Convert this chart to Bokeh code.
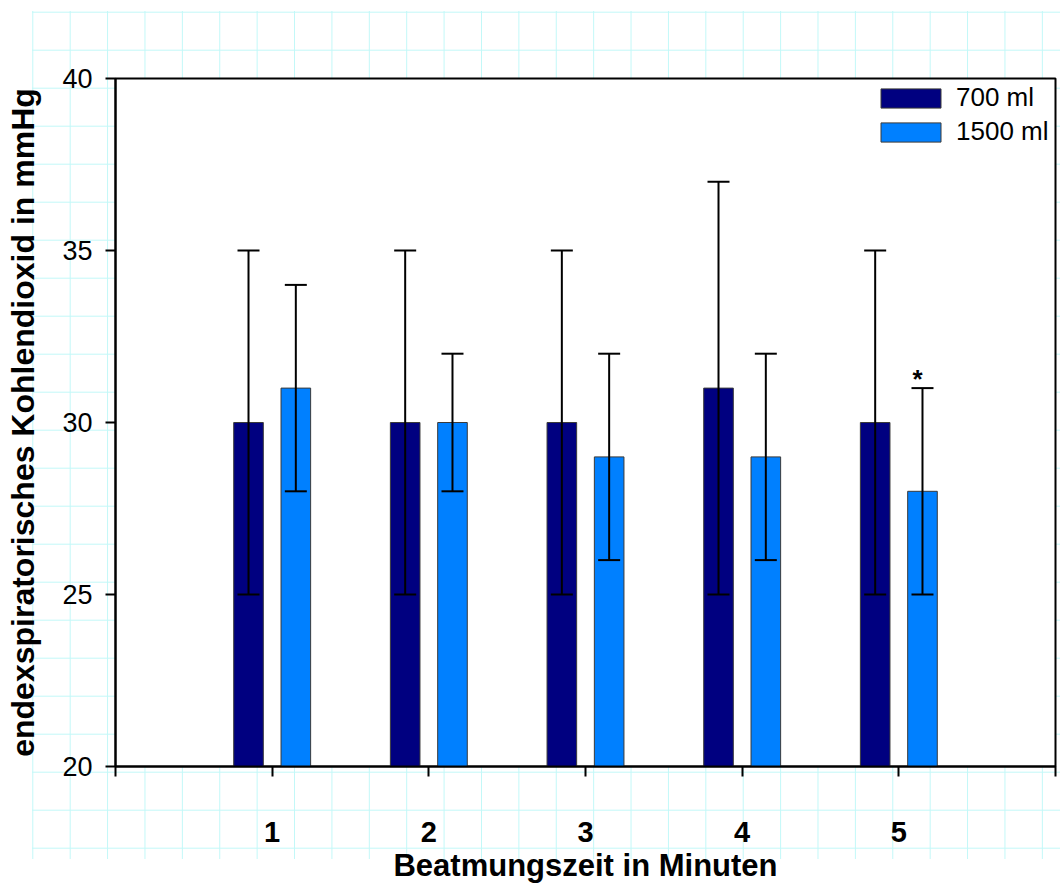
from bokeh.plotting import figure
from bokeh.models import (ColumnDataSource, Whisker, TeeHead, FixedTicker, Legend, LegendItem,
                          Range1d)
from bokeh.transform import dodge
from bokeh.core.properties import value
from bokeh.embed import file_html
from bokeh.resources import INLINE

# ---- data ----
minutes = [1, 2, 3, 4, 5]
tick_labels = ["1", "2", "3", "4", "5"]
co2_700 = [30, 30, 30, 31, 30]
sd_700 = [5, 5, 5, 6, 5]
co2_1500 = [31, 30, 29, 29, 28]
sd_1500 = [3, 2, 3, 3, 3]
series_names = ["700 ml", "1500 ml"]
y_ticks = [20, 25, 30, 35, 40]
star_index = 4  # significant difference marked at minute 5 (1500 ml)

src = ColumnDataSource(dict(
    x=minutes,
    v700=co2_700, lo700=[v - s for v, s in zip(co2_700, sd_700)], hi700=[v + s for v, s in zip(co2_700, sd_700)],
    v1500=co2_1500, lo1500=[v - s for v, s in zip(co2_1500, sd_1500)], hi1500=[v + s for v, s in zip(co2_1500, sd_1500)],
))
star_src = ColumnDataSource(dict(x=[minutes[star_index]], y=[co2_1500[star_index] + sd_1500[star_index]], t=["*"]))

FONT = "Liberation Sans"
GRID = "#c2f8f8"

p = figure(width=1060, height=885, output_backend="svg", toolbar_location=None,
           x_range=Range1d(0, 6), y_range=Range1d(20, 40),
           min_border_left=115, min_border_right=5, min_border_top=78, min_border_bottom=118)

p.stylesheets = [":host { background-color: #ffffff;"
                 " background-image: linear-gradient(#fff,#fff), linear-gradient(#fff,#fff), linear-gradient(#fff,#fff),"
                 f" linear-gradient(to right, {GRID} 1px, transparent 1px), linear-gradient(to bottom, {GRID} 1px, transparent 1px);"
                 " background-size: 32px 100%, 100% 11px, 100% 40px, 37.4px 100%, 100% 38px;"
                 " background-position: 0 0, 0 0, 0 859px, 32.3px 0, 0 11.7px;"
                 " background-repeat: no-repeat, no-repeat, no-repeat, repeat, repeat; }"]

p.border_fill_color = None
p.background_fill_color = "white"
p.outline_line_color = "black"
p.outline_line_width = 2
p.xgrid.visible = False
p.ygrid.visible = False

W = 0.189
OFF = 0.151
r1 = p.vbar(x=dodge("x", -OFF, range=p.x_range), top="v700", bottom=20, width=W, source=src,
            fill_color="#000080", line_color="#3a3a3a", line_width=1)
r2 = p.vbar(x=dodge("x", OFF, range=p.x_range), top="v1500", bottom=20, width=W, source=src,
            fill_color="#0080ff", line_color="#3a3a3a", line_width=1)

for off, lo, hi in [(-OFF, "lo700", "hi700"), (OFF, "lo1500", "hi1500")]:
    w = Whisker(base=dodge("x", off, range=p.x_range), lower=lo, upper=hi, source=src,
                level="annotation", line_color="black", line_width=2,
                upper_head=TeeHead(size=22, line_width=2, line_color="black"),
                lower_head=TeeHead(size=22, line_width=2, line_color="black"))
    p.add_layout(w)

p.text(x=dodge("x", OFF, range=p.x_range), y="y", text="t", source=star_src,
       text_font=value(FONT), text_font_size="26px", text_font_style="bold",
       text_align="center", text_baseline="alphabetic", x_offset=-5, y_offset=-9,
       text_color="black")

# axes
p.xaxis.ticker = FixedTicker(ticks=[0, 1, 2, 3, 4, 5, 6])
p.xaxis.major_label_overrides = {0: "", 6: "", **{m: t for m, t in zip(minutes, tick_labels)}}
p.xaxis.minor_tick_line_color = None
p.xaxis.major_tick_out = 10
p.xaxis.major_tick_in = 0
p.xaxis.major_tick_line_width = 2
p.xaxis.axis_line_width = 2
p.xaxis.major_label_text_font = FONT
p.xaxis.major_label_text_font_style = "bold"
p.xaxis.major_label_text_font_size = "29px"
p.xaxis.major_label_text_color = "black"
p.xaxis.major_label_standoff = 45
p.xaxis.axis_label = "Beatmungszeit in Minuten"
p.xaxis.axis_label_text_font = FONT
p.xaxis.axis_label_text_font_style = "bold"
p.xaxis.axis_label_text_font_size = "31px"
p.xaxis.axis_label_text_color = "black"
p.xaxis.axis_label_standoff = 3

p.yaxis.ticker = FixedTicker(ticks=y_ticks)
p.yaxis.minor_tick_line_color = None
p.yaxis.major_tick_out = 10
p.yaxis.major_tick_in = 0
p.yaxis.major_tick_line_width = 2
p.yaxis.axis_line_width = 2
p.yaxis.major_label_text_font = FONT
p.yaxis.major_label_text_font_size = "27px"
p.yaxis.major_label_text_color = "black"
p.yaxis.major_label_standoff = 13
p.yaxis.axis_label = "endexspiratorisches Kohlendioxid in mmHg"
p.yaxis.axis_label_text_font = FONT
p.yaxis.axis_label_text_font_style = "bold"
p.yaxis.axis_label_text_font_size = "32px"
p.yaxis.axis_label_text_color = "black"
p.yaxis.axis_label_standoff = 18

legend = Legend(items=[LegendItem(label=series_names[0], renderers=[r1]),
                       LegendItem(label=series_names[1], renderers=[r2])],
                location="top_right", border_line_color=None, background_fill_alpha=0,
                glyph_width=75, glyph_height=24, label_standoff=8, spacing=3,
                padding=19, margin=4, label_width=95,
                label_text_font=FONT, label_text_font_size="26px", label_text_color="black")
p.add_layout(legend)

open("out.html", "w").write(file_html(p, INLINE))
